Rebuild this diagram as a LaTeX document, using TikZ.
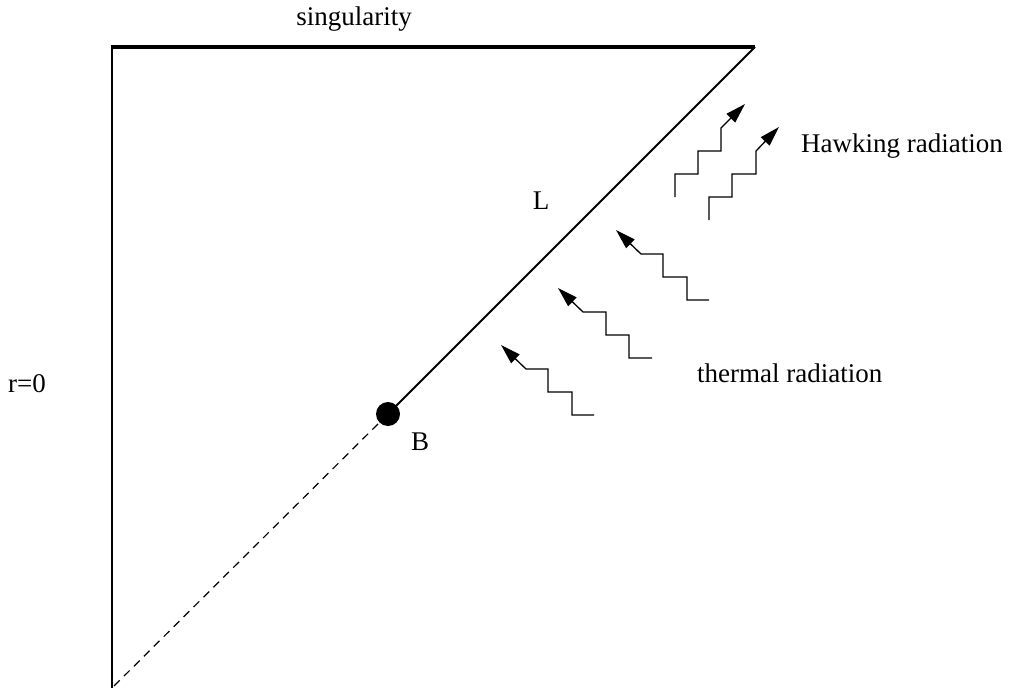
\documentclass[tikz,border=0pt]{standalone}
\usepackage{fontspec}
\setmainfont{Liberation Serif}
\usetikzlibrary{arrows.meta}
\begin{document}
\begin{tikzpicture}[x=1pt,y=-1pt,
  lbl/.style={font=\fontsize{27}{31}\selectfont, inner sep=0pt},
  mainline/.style={line width=2pt},
  stp/.style={line width=1.3pt, -{Triangle[length=20pt,width=12pt]}}
]
\useasboundingbox (0,0) rectangle (1009,688);
% geometry
\coordinate (TL) at (112,47);
\coordinate (TR) at (755,47);
\coordinate (BL) at (112,688);
\coordinate (DE) at (114,686);
\node[circle, fill=black, minimum size=24pt, inner sep=0pt] (B) at (388,414) {};
\draw[mainline] (TL) -- (BL);
\draw[line width=4pt] (111,47) -- (TR);
\draw[mainline] (TR) -- (B.center);
\draw[line width=1.2pt, dash pattern=on 8pt off 6pt] (B.center) -- (DE);
% Hawking radiation
\draw[stp] (675,197) -- (675,174) -- (698,174) -- (698,151) -- (721,151) -- (721,128) -- (745,104);
\draw[stp] (709,220) -- (709,197) -- (732,197) -- (732,174) -- (756,174) -- (756,151) -- (779,127);
% thermal radiation
\draw[stp] (709,300) -- (687,300) -- (687,277) -- (663,277) -- (663,254) -- (641,254) -- (616,230);
\draw[stp] (652,358) -- (629,358) -- (629,335) -- (606,335) -- (606,312) -- (583,312) -- (558,288);
\draw[stp] (594,415) -- (572,415) -- (572,392) -- (548,392) -- (548,369) -- (526,369) -- (501,345);
% labels
\node[lbl, anchor=base] (sing) at (354,25) {singularity};
\node[lbl, anchor=base west] (hawk) at (801,152) {Hawking radiation};
\node[lbl] (L) at (541,201) {L};
\node[lbl, anchor=base west] (therm) at (697,382) {thermal radiation};
\node[lbl, anchor=base west] (r0) at (8,392) {r=0};
\node[lbl] (Blab) at (420,442) {B};
\end{tikzpicture}
\end{document}
